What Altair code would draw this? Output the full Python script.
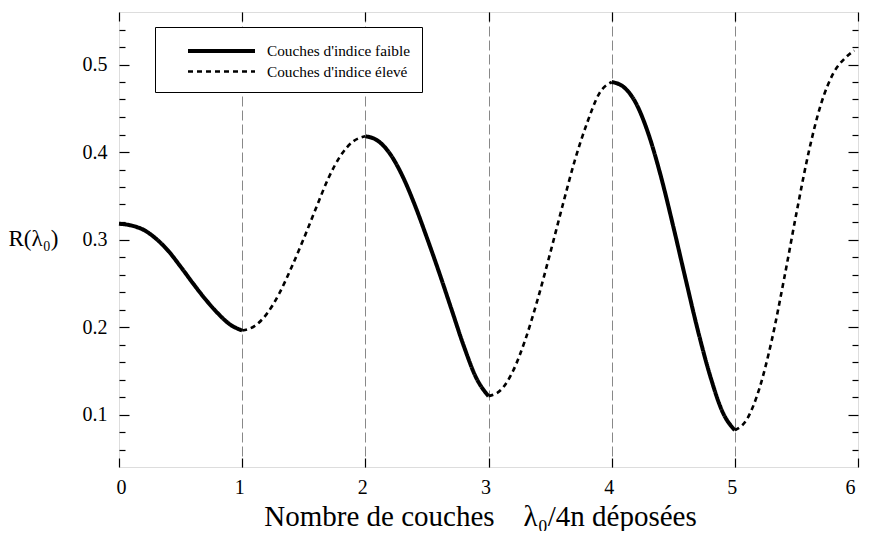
import altair as alt
import pandas as pd

LOW = "Couches d'indice faible"
HIGH = "Couches d'indice élevé"

# Segment A (low index, 0 -> 1)
x_A = [0.0, 0.1, 0.2, 0.3, 0.4, 0.5, 0.6, 0.7, 0.8, 0.9, 1.0]
R_A = [0.318, 0.316, 0.311, 0.301, 0.287, 0.269, 0.250, 0.232, 0.216, 0.203, 0.196]
# Segment B (high index, 1 -> 2)
x_B = [1.0, 1.1, 1.2, 1.3, 1.4, 1.5, 1.6, 1.7, 1.8, 1.9, 2.0]
R_B = [0.196, 0.201, 0.215, 0.238, 0.268, 0.301, 0.336, 0.370, 0.396, 0.412, 0.418]
# Segment C (low index, 2 -> 3)
x_C = [2.0, 2.1, 2.2, 2.3, 2.4, 2.5, 2.6, 2.7, 2.8, 2.9, 3.0]
R_C = [0.418, 0.413, 0.398, 0.373, 0.340, 0.302, 0.262, 0.220, 0.178, 0.142, 0.121]
# Segment D (high index, 3 -> 4)
x_D = [3.0, 3.1, 3.2, 3.3, 3.4, 3.5, 3.6, 3.7, 3.8, 3.9, 4.0]
R_D = [0.121, 0.128, 0.150, 0.186, 0.232, 0.284, 0.338, 0.390, 0.433, 0.467, 0.480]
# Segment E (low index, 4 -> 5)
x_E = [4.0, 4.1, 4.2, 4.3, 4.4, 4.5, 4.6, 4.7, 4.8, 4.9, 5.0]
R_E = [0.480, 0.474, 0.455, 0.420, 0.372, 0.315, 0.255, 0.196, 0.144, 0.103, 0.082]
# Segment F (high index, 5 -> end)
x_F = [5.0, 5.1, 5.2, 5.3, 5.4, 5.5, 5.6, 5.7, 5.8, 5.9, 5.97]
R_F = [0.082, 0.095, 0.130, 0.185, 0.255, 0.330, 0.400, 0.455, 0.490, 0.508, 0.516]

segments = [(x_A, R_A, LOW), (x_B, R_B, HIGH), (x_C, R_C, LOW),
            (x_D, R_D, HIGH), (x_E, R_E, LOW), (x_F, R_F, HIGH)]

x_ticks = [0, 1, 2, 3, 4, 5, 6]
y_labels = [0.1, 0.2, 0.3, 0.4, 0.5]
y_minor = [0.06, 0.08, 0.10, 0.12, 0.14, 0.16, 0.18, 0.20, 0.22, 0.24, 0.26,
           0.28, 0.30, 0.32, 0.34, 0.36, 0.38, 0.40, 0.42, 0.44, 0.46, 0.48,
           0.50, 0.52, 0.54]

rows = []
for i, (xs_, rs_, kind) in enumerate(segments):
    for xv, rv in zip(xs_, rs_):
        rows.append({"x": xv, "R": rv, "seg": i, "kind": kind})
df = pd.DataFrame(rows)

W, H = 739, 455
FONT = "Liberation Serif"

xs = alt.Scale(domain=[0, 6], nice=False, zero=False)
ys = alt.Scale(domain=[0.04, 0.56], nice=False, zero=False)

leg = alt.Legend(
    title=None, orient="none", legendX=36, legendY=15,
    padding=12, fillColor="white", strokeColor="black",
    labelFont=FONT, labelFontSize=15.3, labelColor="black",
    symbolType="M0.9,0H7.6", symbolSize=400, labelOffset=76,
    rowPadding=0, symbolStrokeColor="black",
)

major_test = "abs(datum.value*10 - round(datum.value*10)) < 0.001"

lines = alt.Chart(df).mark_line(color="black", interpolate="monotone").encode(
    x=alt.X("x:Q", scale=xs, axis=alt.Axis(
        orient="bottom", values=x_ticks, ticks=False, domain=False,
        grid=True, gridDash=[10, 4], gridColor="#888888", gridWidth=1,
        gridOpacity={"condition": {"test": "datum.value == 0 || datum.value == 6", "value": 0}, "value": 1},
        labelFont=FONT, labelFontSize=20, labelColor="black", labelPadding=10,
        labelOffset=-3,
        title="Nombre de couches\u00a0\u00a0\u00a0\u00a0\u03bb\u2080/4n déposées",
        titleFont=FONT, titleFontSize=29, titleFontWeight="normal",
        titleColor="black", titlePadding=5, titleX=361)),
    y=alt.Y("R:Q", scale=ys, axis=alt.Axis(
        orient="left", values=y_labels, format=".1f", ticks=False, domain=False,
        grid=False, labelFont=FONT, labelFontSize=20, labelColor="black",
        labelPadding=12, title="R(\u03bb\u2080)", titleAngle=0, titleX=-111,
        titleY=226, titleAlign="left", titleBaseline="middle",
        titleFont=FONT, titleFontSize=23, titleFontWeight="normal",
        titleColor="black")),
    detail="seg:N",
    strokeDash=alt.StrokeDash("kind:N", scale=alt.Scale(domain=[LOW, HIGH], range=[[1, 0], [5, 4]]), legend=leg),
    strokeWidth=alt.StrokeWidth("kind:N", scale=alt.Scale(domain=[LOW, HIGH], range=[4, 2.6]), legend=leg),
)

ghost_B = alt.Chart(df).mark_point(opacity=0).encode(
    x=alt.X("x:Q", scale=xs, axis=alt.Axis(
        orient="top", offset=-H, values=x_ticks, tickSize=9, tickColor="black",
        tickWidth=1.2, labels=False, domain=False, grid=False, title=None)),
    y=alt.Y("R:Q", scale=ys, axis=alt.Axis(
        orient="right", offset=-W, values=y_minor, tickColor="black", tickWidth=1.2,
        tickSize={"condition": {"test": major_test, "value": 10}, "value": 6},
        labels=False, domain=False, grid=False, title=None)),
)

ghost_C = alt.Chart(df).mark_point(opacity=0).encode(
    x=alt.X("x:Q", scale=xs, axis=alt.Axis(
        orient="bottom", offset=-H, values=x_ticks, tickSize=9, tickColor="black",
        tickWidth=1.2, labels=False, domain=False, grid=False, title=None)),
    y=alt.Y("R:Q", scale=ys, axis=alt.Axis(
        orient="left", offset=-W, values=y_minor, tickColor="black", tickWidth=1.2,
        tickSize={"condition": {"test": major_test, "value": 10}, "value": 6},
        labels=False, domain=False, grid=False, title=None)),
)

chart = alt.layer(lines, ghost_B, ghost_C).resolve_axis(
    x="independent", y="independent"
).properties(
    width=W, height=H,
    padding={"top": 3, "left": 0, "right": 0, "bottom": 0},
).configure_view(
    stroke="black", strokeWidth=1.5
).configure(background="white")

chart.save("out.html", embed_options={"renderer": "svg", "actions": False})
